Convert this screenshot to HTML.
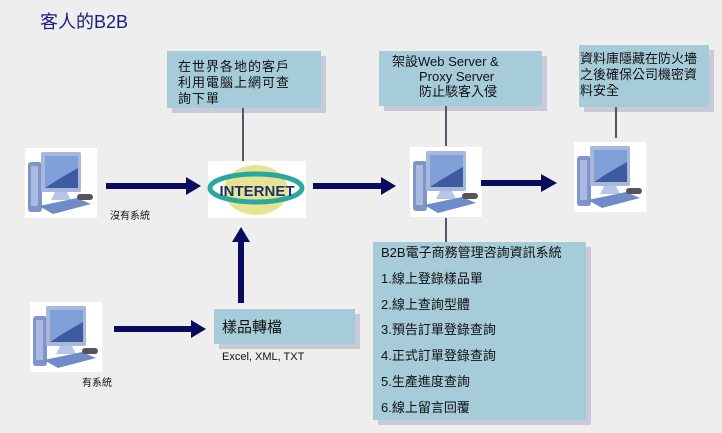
<!DOCTYPE html>
<html><head><meta charset="utf-8">
<style>
*{margin:0;padding:0;box-sizing:border-box}
body{width:722px;height:433px;background:#eeeeee;position:relative;overflow:hidden;font-family:"Liberation Sans","Noto Sans CJK TC",sans-serif;color:#111}
.a{position:absolute}
.box{position:absolute;background:#a6cbd9;box-shadow:5px 5px 0 #c9c9d9}
.t{font-size:13px;line-height:16px}
.line{position:absolute;background:#555566}
</style></head><body>
<div class="a" style="left:40px;top:8px;font-size:18px;color:#1c1c7c;">客人的B2B</div>

<div class="box" style="left:167px;top:51px;width:154px;height:57px;"></div>
<div class="a t" style="left:178px;top:59px;letter-spacing:1px;">在世界各地的客戶<br>利用電腦上網可查<br>詢下單</div>

<div class="box" style="left:379px;top:51px;width:163px;height:55px;"></div>
<div class="a t" style="left:392px;top:54px;line-height:15px;">架設Web Server &amp;<br><span style="padding-left:27px">Proxy Server</span><br><span style="padding-left:27px">防止駭客入侵</span></div>

<div class="box" style="left:579px;top:45px;width:130px;height:62px;"></div>
<div class="a t" style="left:580px;top:51px;line-height:16px;">資料庫隱藏在防火墻<br>之後確保公司機密資<br>料安全</div>

<div class="box" style="left:373px;top:242px;width:213px;height:178px;"></div>
<div class="a" style="left:381px;top:240px;font-size:13px;line-height:25.8px;">B2B電子商務管理咨詢資訊系統<br>1.線上登錄樣品單<br>2.線上查詢型體<br>3.預告訂單登錄查詢<br>4.正式訂單登錄查詢<br>5.生產進度查詢<br>6.線上留言回覆</div>

<div class="box" style="left:214px;top:309px;width:141px;height:35px;"></div>
<div class="a" style="left:222px;top:316px;font-size:15px;">樣品轉檔</div>
<div class="a" style="left:222px;top:351px;font-size:11px;">Excel, XML, TXT</div>

<div class="a" style="left:110px;top:207px;font-size:10px;">沒有系統</div>
<div class="a" style="left:82px;top:374px;font-size:10px;">有系統</div>

<div class="line" style="left:242px;top:108px;width:2px;height:53px;"></div>
<div class="line" style="left:445px;top:106px;width:2px;height:40px;"></div>
<div class="line" style="left:445px;top:218px;width:2px;height:24px;"></div>
<div class="line" style="left:615px;top:107px;width:2px;height:31px;"></div>

<svg class="a" style="left:0;top:0" width="722" height="433">
<defs>
<g id="pc">
<rect x="0" y="0" width="72" height="70" fill="#fff"/>
<rect x="3" y="14" width="14" height="50" rx="3" fill="#7f95c8"/>
<rect x="6" y="18" width="7" height="40" fill="#a9bbe2"/>
<rect x="16" y="4" width="40" height="40" rx="2" fill="#a8b8dc"/>
<rect x="20" y="8" width="33" height="32" fill="#3e5ba0"/>
<path d="M20 8 H53 V20 Q35 30 20 40Z" fill="#7fa0d8"/>
<path d="M30 44 L42 44 L46 52 L26 52Z" fill="#b8c6e6"/>
<path d="M14 58 L52 50 L66 56 L28 66Z" fill="#6f8bc8"/>
<rect x="52" y="46" width="16" height="6" rx="3" fill="#555"/>
</g>
</defs>
<use href="#pc" x="25" y="148"/>
<use href="#pc" x="30" y="302"/>
<use href="#pc" x="410" y="147"/>
<use href="#pc" x="574" y="142"/>
<rect x="208" y="161" width="98" height="57" fill="#fff"/>
<ellipse cx="256" cy="190" rx="32" ry="25" fill="#e6e494"/>
<ellipse cx="256" cy="188" rx="46" ry="14" fill="none" stroke="#2aa8a0" stroke-width="5"/>
<text x="257" y="196" text-anchor="middle" font-family="Liberation Sans" font-weight="bold" font-size="15" fill="#1f2f6a">INTERNET</text>
<g fill="#0a0a5e">
<rect x="106" y="183" width="82" height="6"/><polygon points="186,177 201,186 186,195"/>
<rect x="313" y="183" width="70" height="6"/><polygon points="381,177 396,186 381,195"/>
<rect x="481" y="180" width="62" height="6"/><polygon points="541,174 557,183 541,192"/>
<rect x="114" y="326" width="79" height="6"/><polygon points="191,320 206,329 191,338"/>
<rect x="238" y="240" width="6" height="63"/><polygon points="232,242 241,227 250,242"/>
</g>
</svg>
</body></html>
